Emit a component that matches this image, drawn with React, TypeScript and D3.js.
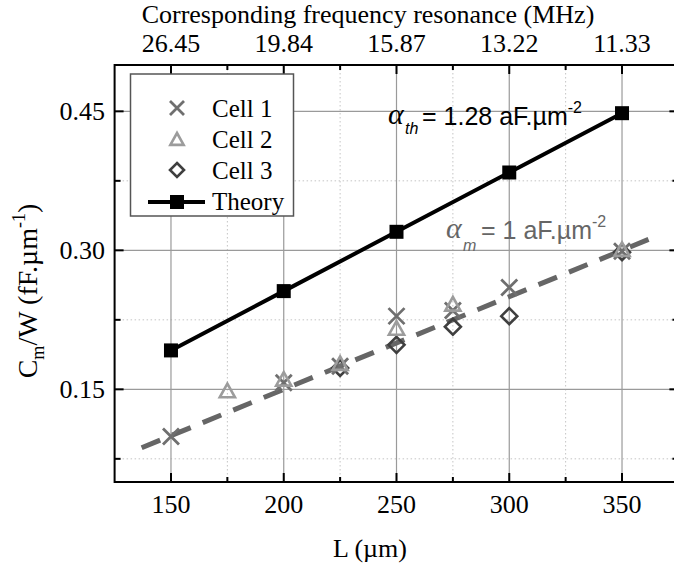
import React from "react";
import * as d3 from "d3";

const W = 674;
const H = 567;

// Data
const theoryL = [150, 200, 250, 300, 350];
const theoryC = [0.192, 0.256, 0.32, 0.384, 0.448];

const cell1L = [150, 200, 225, 250, 275, 300, 350];
const cell1C = [0.099, 0.157, 0.175, 0.229, 0.235, 0.26, 0.299];

const cell2L = [175, 200, 225, 250, 275, 350];
const cell2C = [0.1475, 0.16, 0.177, 0.215, 0.241, 0.3];

const cell3L = [225, 250, 275, 300, 350];
const cell3C = [0.173, 0.198, 0.2175, 0.229, 0.298];

const fitL = [137, 366];
const fitC = [0.087, 0.316];

const xMajor = [150, 200, 250, 300, 350];
const xMinor = [175, 225, 275, 325];
const yMajor = [0.15, 0.3, 0.45];
const yMinor = [0.075, 0.225, 0.375];
const topLabels = ["26.45", "19.84", "15.87", "13.22", "11.33"];
const yLabels = ["0.15", "0.30", "0.45"];
const legendLabels = ["Cell 1", "Cell 2", "Cell 3", "Theory"];

const x = d3.scaleLinear().domain([125, 375]).range([114.6, 678.4]);
const y = d3.scaleLinear().domain([0.05, 0.5]).range([482, 65]);

const serif = "'Liberation Serif', 'Times New Roman', serif";
const sans = "'Liberation Sans', Arial, sans-serif";

const C1 = "#6f6f6f";
const C2 = "#9c9c9c";
const C3 = "#3f3f3f";

function XMark({ cx, cy, s = 8, color = C1 }: any) {
  return (
    <path
      d={`M${cx - s},${cy - s}L${cx + s},${cy + s}M${cx - s},${cy + s}L${cx + s},${cy - s}`}
      stroke={color}
      strokeWidth={2.8}
      fill="none"
    />
  );
}
function Tri({ cx, cy, s = 8, color = C2 }: any) {
  return (
    <path
      d={`M${cx},${cy - s}L${cx + s * 0.95},${cy + s * 0.7}L${cx - s * 0.95},${cy + s * 0.7}Z`}
      stroke={color}
      strokeWidth={2.6}
      fill="none"
    />
  );
}
function Dia({ cx, cy, s = 8, color = C3 }: any) {
  return (
    <path
      d={`M${cx},${cy - s}L${cx + s},${cy}L${cx},${cy + s}L${cx - s},${cy}Z`}
      stroke={color}
      strokeWidth={2.6}
      fill="none"
    />
  );
}

export default function App() {
  const line = d3
    .line<number>()
    .x((_, i) => x(theoryL[i]))
    .y((d) => y(d));
  const fitLine = d3
    .line<number>()
    .x((_, i) => x(fitL[i]))
    .y((d) => y(d));

  const [x0, x1] = x.range();
  const [y0, y1] = y.range();

  return (
    <svg
      width={W}
      height={H}
      style={{ position: "absolute", left: 0, top: 0, background: "#fff" }}
    >
      <rect x={0} y={0} width={W} height={H} fill="#fff" />
      {/* grid */}
      {xMinor.map((v) => (
        <line key={"xm" + v} x1={x(v)} x2={x(v)} y1={y1} y2={y0} stroke="#c4c4c4" strokeWidth={1} strokeDasharray="1.5 2.5" />
      ))}
      {yMinor.map((v) => (
        <line key={"ym" + v} x1={x0} x2={x1} y1={y(v)} y2={y(v)} stroke="#c4c4c4" strokeWidth={1} strokeDasharray="1.5 2.5" />
      ))}
      {xMajor.map((v) => (
        <line key={"xM" + v} x1={x(v)} x2={x(v)} y1={y1} y2={y0} stroke="#9a9a9a" strokeWidth={1.2} />
      ))}
      {yMajor.map((v) => (
        <line key={"yM" + v} x1={x0} x2={x1} y1={y(v)} y2={y(v)} stroke="#9a9a9a" strokeWidth={1.2} />
      ))}

      {/* frame */}
      <rect x={x0} y={y1} width={x1 - x0} height={y0 - y1} fill="none" stroke="#000" strokeWidth={2} />

      {/* ticks */}
      {xMajor.map((v) => (
        <g key={"xt" + v}>
          <line x1={x(v)} x2={x(v)} y1={y0} y2={y0 - 9} stroke="#000" strokeWidth={2} />
          <line x1={x(v)} x2={x(v)} y1={y1} y2={y1 + 9} stroke="#000" strokeWidth={2} />
        </g>
      ))}
      {xMinor.map((v) => (
        <g key={"xmt" + v}>
          <line x1={x(v)} x2={x(v)} y1={y0} y2={y0 - 5} stroke="#000" strokeWidth={2} />
          <line x1={x(v)} x2={x(v)} y1={y1} y2={y1 + 5} stroke="#000" strokeWidth={2} />
        </g>
      ))}
      {yMajor.map((v) => (
        <g key={"yt" + v}>
          <line x1={x0} x2={x0 + 9} y1={y(v)} y2={y(v)} stroke="#000" strokeWidth={2} />
          <line x1={x1} x2={x1 - 9} y1={y(v)} y2={y(v)} stroke="#000" strokeWidth={2} />
        </g>
      ))}
      {yMinor.map((v) => (
        <g key={"ymt" + v}>
          <line x1={x0} x2={x0 + 6} y1={y(v)} y2={y(v)} stroke="#000" strokeWidth={2} />
          <line x1={x1} x2={x1 - 6} y1={y(v)} y2={y(v)} stroke="#000" strokeWidth={2} />
        </g>
      ))}

      {/* tick labels */}
      {xMajor.map((v) => (
        <text key={"xl" + v} x={x(v)} y={513} textAnchor="middle" fontFamily={serif} fontSize={26}>
          {v}
        </text>
      ))}
      {xMajor.map((v, i) => (
        <text key={"tl" + v} x={x(v)} y={52} textAnchor="middle" fontFamily={serif} fontSize={26}>
          {topLabels[i]}
        </text>
      ))}
      {yMajor.map((v, i) => (
        <text key={"yl" + v} x={105} y={y(v) + 9} textAnchor="end" fontFamily={serif} fontSize={26}>
          {yLabels[i]}
        </text>
      ))}

      {/* axis titles */}
      <text x={370} y={557} textAnchor="middle" fontFamily={serif} fontSize={26}>
        L (µm)
      </text>
      <text x={368} y={23} textAnchor="middle" fontFamily={serif} fontSize={26}>
        Corresponding frequency resonance (MHz)
      </text>
      <text transform="translate(37,291) rotate(-90)" textAnchor="middle" fontFamily={serif} fontSize={28}>
        C<tspan fontSize={18} dy={7}>m</tspan>
        <tspan dy={-7}>/W (fF.µm</tspan>
        <tspan fontSize={18} dy={-12}>-1</tspan>
        <tspan dy={12}>)</tspan>
      </text>

      {/* fit line */}
      <path d={fitLine(fitC) || ""} stroke="#666" strokeWidth={5} strokeDasharray="20 13" fill="none" />

      {/* theory */}
      <path d={line(theoryC) || ""} stroke="#000" strokeWidth={4} fill="none" />
      {theoryC.map((v, i) => (
        <rect key={"sq" + i} x={x(theoryL[i]) - 7} y={y(v) - 7} width={14} height={14} fill="#000" />
      ))}

      {/* cells */}
      {cell3C.map((v, i) => (
        <Dia key={"c3" + i} cx={x(cell3L[i])} cy={y(v)} />
      ))}
      {cell1C.map((v, i) => (
        <XMark key={"c1" + i} cx={x(cell1L[i])} cy={y(v)} />
      ))}
      {cell2C.map((v, i) => (
        <Tri key={"c2" + i} cx={x(cell2L[i])} cy={y(v)} />
      ))}

      {/* annotations */}
      <text x={388} y={124} fontFamily={serif} fontSize={30} fontStyle="italic">
        α
      </text>
      <text x={405} y={134} fontFamily={sans} fontSize={16} fontStyle="italic">
        th
      </text>
      <text x={422} y={125} fontFamily={sans} fontSize={25}>
        = 1.28 aF.µm<tspan fontSize={16} dy={-12}>-2</tspan>
      </text>

      <g fill="#666">
        <text x={446} y={238} fontFamily={serif} fontSize={30} fontStyle="italic">
          α
        </text>
        <text x={463} y={251} fontFamily={sans} fontSize={16} fontStyle="italic">
          m
        </text>
        <text x={481} y={239} fontFamily={sans} fontSize={25}>
          = 1 aF.µm<tspan fontSize={16} dy={-12}>-2</tspan>
        </text>
      </g>

      {/* legend */}
      <rect x={130.5} y={74} width={163} height={142} fill="#fff" stroke="#555" strokeWidth={1.5} />
      <XMark cx={177} cy={108} s={7} />
      <Tri cx={177} cy={140} s={7} />
      <Dia cx={177} cy={170} s={7} />
      <line x1={148} x2={205} y1={202} y2={202} stroke="#000" strokeWidth={4} />
      <rect x={170} y={195} width={14} height={14} fill="#000" />
      {legendLabels.map((t, i) => (
        <text key={t} x={212} y={117 + i * 31} fontFamily={serif} fontSize={25}>
          {t}
        </text>
      ))}
    </svg>
  );
}
